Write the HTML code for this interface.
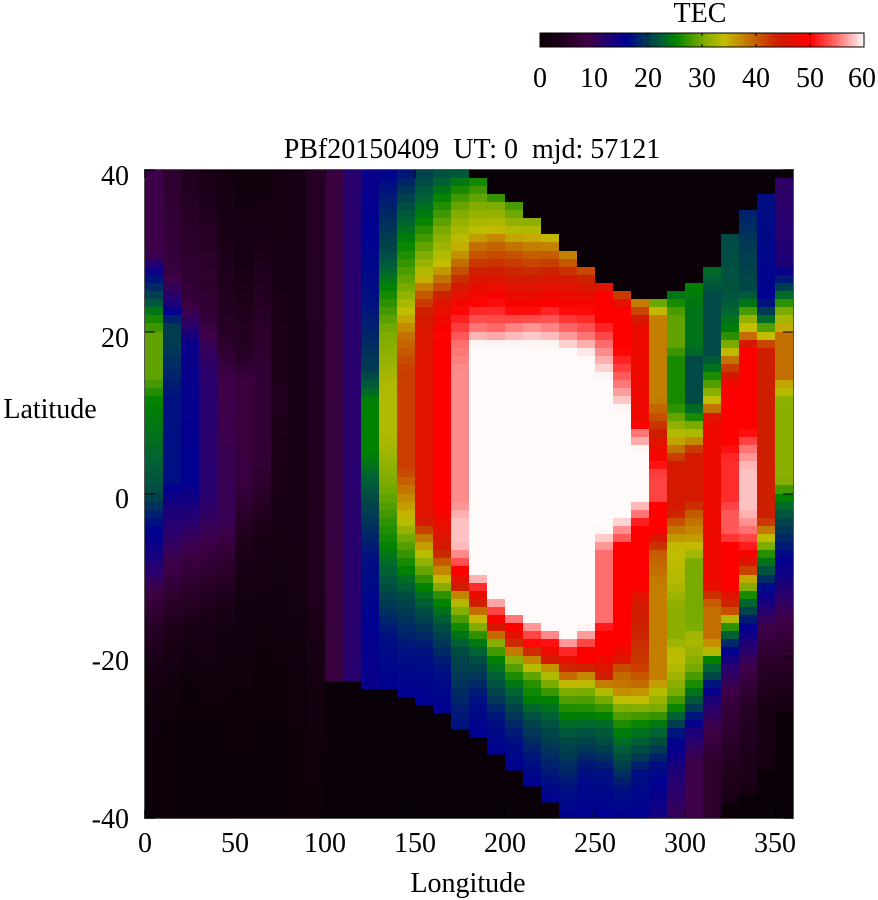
<!DOCTYPE html>
<html><head><meta charset="utf-8"><style>
html,body{margin:0;padding:0;background:#fff;width:878px;height:900px;overflow:hidden}
svg{position:absolute;left:0;top:0}
text{font-family:"Liberation Serif",serif;font-size:28px;fill:#000}
</style></head><body>
<svg id="s" width="878" height="900" xmlns="http://www.w3.org/2000/svg">
<defs><linearGradient id="cb" x1="0" x2="1" y1="0" y2="0">
</linearGradient></defs>
<g id="heat"></g>
<rect x="144.5" y="169.5" width="649" height="649" fill="none" stroke="#555" stroke-width="1"/>
<g id="ticks" stroke="#000" stroke-width="1"></g>
<text x="700" y="22" text-anchor="middle">TEC</text>
<rect x="540" y="33" width="324" height="14" fill="url(#cb)" stroke="#000" stroke-width="1"/>
<g id="cbt" stroke="#000" stroke-width="1"></g>
<g text-anchor="middle">
<text x="540" y="87">0</text><text x="594" y="87">10</text><text x="648" y="87">20</text><text x="702" y="87">30</text><text x="756" y="87">40</text><text x="810" y="87">50</text><text x="862" y="87">60</text>
</g>
<text x="472" y="158" text-anchor="middle" xml:space="preserve">PBf20150409  UT: 0  mjd: 57121</text>
<g text-anchor="end">
<text x="129" y="185">40</text><text x="129" y="347">20</text><text x="129" y="508">0</text><text x="129" y="670">-20</text><text x="129" y="828">-40</text>
</g>
<g text-anchor="middle">
<text x="145" y="852">0</text><text x="235" y="852">50</text><text x="325" y="852">100</text><text x="415" y="852">150</text><text x="505" y="852">200</text><text x="595" y="852">250</text><text x="685" y="852">300</text><text x="775" y="852">350</text>
</g>
<text x="50" y="418" text-anchor="middle">Latitude</text>
<text x="468" y="892" text-anchor="middle">Longitude</text>
</svg>
<script>
(function(){
var stops=[[0,10,0,8],[3,24,0,20],[6,45,0,45],[9,62,0,72],[12,40,0,110],[16,0,0,145],[20,0,60,80],[23,0,100,50],[25,0,130,0],[30,120,170,0],[34,195,190,0],[39,195,110,0],[44,205,30,0],[50,255,0,0],[55,255,110,110],[60,255,250,250]];
function col(v){if(v<=0)v=0;if(v>=60)v=60;for(var i=1;i<stops.length;i++){if(v<=stops[i][0]){var a=stops[i-1],b=stops[i],t=(v-a[0])/(b[0]-a[0]);return 'rgb('+Math.round(a[1]+t*(b[1]-a[1]))+','+Math.round(a[2]+t*(b[2]-a[2]))+','+Math.round(a[3]+t*(b[3]-a[3]))+')';}}return 'rgb(255,250,250)';}
var C=[
[[170,9],[253,9],[278,17],[299,21],[315,25],[336,29],[378,29],[402,25],[460,23],[494,21],[523,17],[564,13],[589,9],[627,5],[668,3],[710,1],[818,0.5]],
[[170,6],[274,8],[307,14],[315,17],[328,20],[344,20],[402,17],[481,17],[502,14],[543,11],[577,8],[606,5],[668,2],[720,0.5],[818,0.5]],
[[170,4],[295,7],[328,12],[344,15],[481,16],[523,12],[552,9],[585,6],[647,2],[689,0.5],[818,0.5]],
[[170,3],[315,7],[357,11],[378,12],[502,12],[543,9],[585,5],[627,3],[710,0.5],[818,0.5]],
[[170,2],[336,5],[378,9],[523,10],[564,6],[627,2],[720,0.5],[818,0.5]],
[[170,1],[357,5],[378,8],[481,8],[523,5],[585,2],[668,1],[750,0.5],[818,0.5]],
[[170,1],[378,7],[461,7],[543,3],[627,1],[720,0.5],[818,0.5]],
[[170,2],[400,4],[500,3],[647,1],[720,0.5],[818,0.5]],
[[170,3],[500,3],[700,1],[818,0.5]],
[[170,5],[600,4],[680,2],[818,0.5]],
[[170,8],[682,8]],
[[170,12],[682,12]],
[[170,15],[300,17],[370,20],[403,25],[453,25],[500,21],[560,17],[689,15]],
[[170,16],[253,21],[287,25],[330,30],[387,33],[437,33],[487,30],[547,25],[590,21],[637,17],[691,16]],
[[170,17],[203,21],[243,25],[287,30],[313,34],[337,39],[370,42],[470,42],[487,39],[520,34],[537,30],[570,25],[597,21],[653,17],[697,16]],
[[170,20],[220,25],[253,30],[277,34],[290,39],[310,44],[337,46],[520,46],[537,39],[553,34],[587,25],[613,21],[653,17],[705,16]],
[[170,21],[197,25],[230,30],[263,34],[280,39],[303,46],[337,50],[503,50],[553,44],[580,34],[597,26],[630,21],[670,17],[713,16]],
[[170,21],[185,25],[210,30],[243,34],[263,39],[283,44],[310,50],[343,55],[370,56],[503,56],[520,58],[545,58],[560,55],[570,50],[587,44],[600,34],[630,25],[653,21],[728,17]],
[[178,25],[203,30],[233,34],[247,39],[270,44],[303,50],[327,55],[345,60],[575,60],[583,55],[590,50],[603,44],[620,34],[640,25],[663,21],[700,17],[737,16]],
[[193,25],[205,30],[230,34],[243,39],[270,44],[300,50],[330,55],[345,60],[598,60],[605,56],[625,47],[635,40],[643,31],[660,25],[690,21],[720,17],[753,16]],
[[202,27],[235,34],[250,40],[275,44],[310,50],[325,55],[345,60],[612,60],[620,55],[627,50],[640,45],[650,40],[660,31],[680,25],[705,21],[740,17],[768,16]],
[[218,30],[235,34],[250,39],[275,44],[310,50],[330,57],[345,60],[622,60],[630,55],[645,50],[650,45],[655,40],[665,35],[680,27],[700,25],[720,21],[760,17],[785,16]],
[[233,32],[250,39],[272,44],[305,50],[325,55],[345,60],[630,60],[637,55],[645,50],[660,45],[670,35],[685,30],[700,25],[730,21],[780,17],[802,16]],
[[250,36],[258,39],[275,44],[310,50],[330,55],[350,60],[638,60],[643,57],[655,50],[665,45],[675,40],[690,31],[710,26],[740,21],[790,17],[818,16]],
[[266,40],[280,44],[310,50],[335,55],[355,60],[627,60],[640,55],[650,50],[660,50],[667,45],[673,39],[683,34],[693,30],[715,25],[737,21],[770,17],[818,16]],
[[282,44],[295,50],[320,50],[345,55],[365,58],[378,60],[530,60],[540,58],[553,55],[620,55],[630,50],[653,50],[667,46],[677,44],[683,39],[690,34],[700,30],[717,25],[727,23],[743,21],[773,17],[818,16]],
[[290,39],[300,45],[310,50],[350,50],[370,53],[395,57],[410,60],[520,60],[525,57],[537,55],[545,50],[640,50],[660,46],[670,40],[690,38],[700,34],[710,30],[730,25],[760,21],[790,17],[818,16]],
[[298,34],[305,39],[320,45],[330,48],[420,48],[425,50],[432,55],[445,58],[450,60],[500,60],[505,58],[515,55],[525,50],[585,50],[600,45],[668,42],[685,39],[701,34],[710,30],[726,25],[751,21],[772,17],[818,16]],
[[298,25],[308,33],[320,38],[400,38],[412,40],[432,44],[450,48],[462,50],[475,53],[500,53],[505,50],[530,50],[540,45],[555,40],[585,38],[680,38],[689,34],[710,30],[722,25],[743,21],[764,17],[818,14]],
[[290,23],[300,25],[315,29],[345,29],[360,26],[405,26],[420,30],[437,34],[450,39],[465,45],[510,45],[525,40],[548,34],[585,33],[606,31],[639,31],[655,34],[668,33],[693,30],[710,25],[722,21],[734,17],[772,13],[818,10]],
[[282,25],[310,24],[350,24],[360,21],[400,21],[415,25],[425,30],[437,34],[445,40],[455,45],[500,45],[515,40],[540,36],[564,30],[626,30],[639,33],[668,30],[689,25],[705,21],[718,17],[734,13],[760,9],[818,9]],
[[266,24],[295,21],[353,21],[369,24],[390,30],[402,34],[411,40],[419,48],[585,48],[590,45],[606,39],[639,39],[651,34],[660,25],[676,21],[685,17],[701,13],[730,9],[760,6],[818,6]],
[[234,21],[300,22],[332,25],[353,34],[361,39],[373,44],[390,50],[444,50],[460,52],[502,52],[510,54],[535,54],[544,50],[585,50],[602,44],[614,40],[622,30],[631,25],[639,21],[647,17],[668,12],[701,8],[751,5],[803,3]],
[[209,18],[250,20],[290,21],[307,25],[315,30],[328,34],[336,39],[344,45],[348,50],[431,50],[448,55],[469,58],[510,58],[531,55],[552,50],[568,44],[581,34],[597,25],[610,21],[622,17],[643,13],[668,9],[710,5],[790,3]],
[[194,17],[300,16],[315,21],[323,25],[336,34],[340,39],[348,44],[519,44],[527,40],[539,34],[556,26],[573,21],[585,17],[606,13],[627,9],[668,5],[710,3],[770,2]],
[[178,11],[265,13],[274,16],[290,21],[299,25],[311,30],[322,33],[330,36],[336,39],[377,39],[386,35],[402,31],[481,31],[498,25],[519,21],[552,17],[585,13],[618,9],[668,5],[713,2]]
];
var NS="http://www.w3.org/2000/svg",g=document.getElementById('heat');
function add(p,tag,at){var e=document.createElementNS(NS,tag);for(var q in at)e.setAttribute(q,at[q]);p.appendChild(e);return e;}
add(g,'rect',{x:145,y:170,width:648,height:648,fill:'rgb(10,0,8)'});
for(var k=0;k<36;k++){var d=C[k],tp=d[0][0],bt=d[d.length-1][0];
 var x0=Math.round(145+18*k),x1=Math.round(145+18*(k+1));
 for(var r=0;r<80;r++){var y0=170+648*r/80,y1=170+648*(r+1)/80,yc=(y0+y1)/2;
  if(yc<tp||yc>bt)continue;
  var v=d[0][1];for(var j=1;j<d.length;j++){if(yc<=d[j][0]){var a=d[j-1],b=d[j];v=a[1]+(b[1]-a[1])*(yc-a[0])/((b[0]-a[0])||1);break;}}
  add(g,'rect',{x:x0,y:Math.floor(y0),width:x1-x0,height:Math.ceil(y1)-Math.floor(y0)+0.5,fill:col(v),'shape-rendering':'crispEdges'});
 }}
var t=document.getElementById('ticks');
for(var i=0;i<8;i++){var x=145+i*90;add(t,'line',{x1:x,y1:818,x2:x,y2:810});add(t,'line',{x1:x,y1:170,x2:x,y2:178});}
for(var i=0;i<5;i++){var y=170+i*162;add(t,'line',{x1:145,y1:y,x2:155,y2:y});add(t,'line',{x1:793,y1:y,x2:783,y2:y});}
var lg=document.getElementById('cb');
for(var v=0;v<=60;v+=1){add(lg,'stop',{offset:(v/60),'stop-color':col(v)});}
var ct=document.getElementById('cbt');
for(var i=1;i<6;i++){var x=540+i*54;add(ct,'line',{x1:x,y1:33,x2:x,y2:36});add(ct,'line',{x1:x,y1:47,x2:x,y2:44});}
})();
</script>
</body></html>
